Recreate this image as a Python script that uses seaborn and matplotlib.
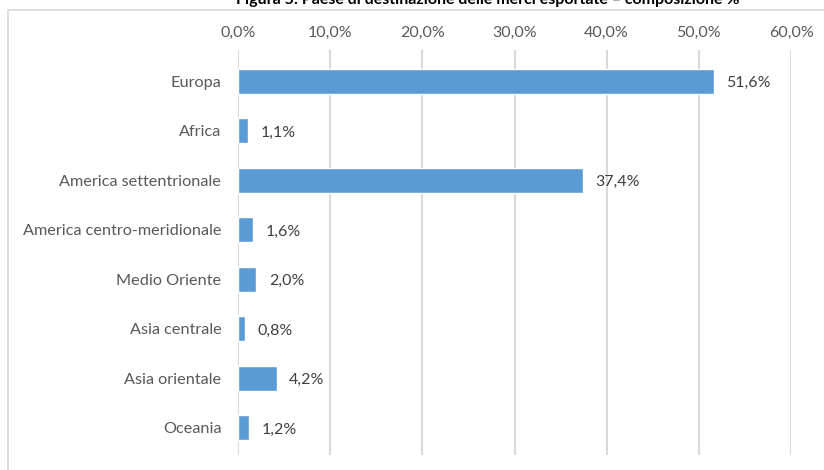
import matplotlib
matplotlib.use("Agg")
import matplotlib.pyplot as plt
import seaborn as sns
import pandas as pd
from matplotlib.patches import Rectangle

categories = ["Europa", "Africa", "America settentrionale", "America centro-meridionale",
              "Medio Oriente", "Asia centrale", "Asia orientale", "Oceania"]
values = [51.6, 1.1, 37.4, 1.6, 2.0, 0.8, 4.2, 1.2]
ticks = [0, 10, 20, 30, 40, 50, 60]
tick_labels = ["0,0%", "10,0%", "20,0%", "30,0%", "40,0%", "50,0%", "60,0%"]
title = "Figura 5: Paese di destinazione delle merci esportate \u2013 composizione %"

sns.set_theme(style="white")
plt.rcParams['font.family'] = ['Lato', 'DejaVu Sans']

W, H = 824, 470
fig = plt.figure(figsize=(W/100, H/100), dpi=100)
# chart frame
fig.patches.append(Rectangle((8/W, -0.1), 1.2, 1 - 10/H + 0.1, transform=fig.transFigure,
                             fill=False, edgecolor="#D9D9D9", linewidth=1.2, zorder=0))

ax = fig.add_axes([238/W, 1 - 455/H, (791-238)/W, (455-50)/H])
df = pd.DataFrame({"region": categories, "value": values})
sns.barplot(data=df, x="value", y="region", ax=ax, color="#5B9BD5", saturation=1,
            width=0.5, orient="h")
ax.set_xlim(0, 60)
ax.set_ylim(7.55, -0.63)
ax.set_xticks(ticks)
ax.set_xticklabels(tick_labels)
ax.xaxis.tick_top()
ax.tick_params(axis="x", length=0, pad=7, labelsize=11.5, colors="#595959")
ax.tick_params(axis="y", length=0, pad=12, labelsize=11.7, colors="#595959")
ax.set_xlabel("")
ax.set_ylabel("")
for s in ax.spines.values():
    s.set_visible(False)
ax.grid(axis="x", color="#D9D9D9", linewidth=1.5)
ax.set_axisbelow(True)
for i, v in enumerate(values):
    ax.annotate(f"{v:.1f}".replace(".", ",") + "%", (v, i), xytext=(9, -1.5),
                textcoords="offset points", va="center", ha="left",
                fontsize=11.5, color="#404040")

fig.text(488/W, 1 - 0/H, title, ha="center", va="center", fontsize=11.5,
         fontweight="bold", color="#000000")
fig.savefig("out.png", dpi=100)
